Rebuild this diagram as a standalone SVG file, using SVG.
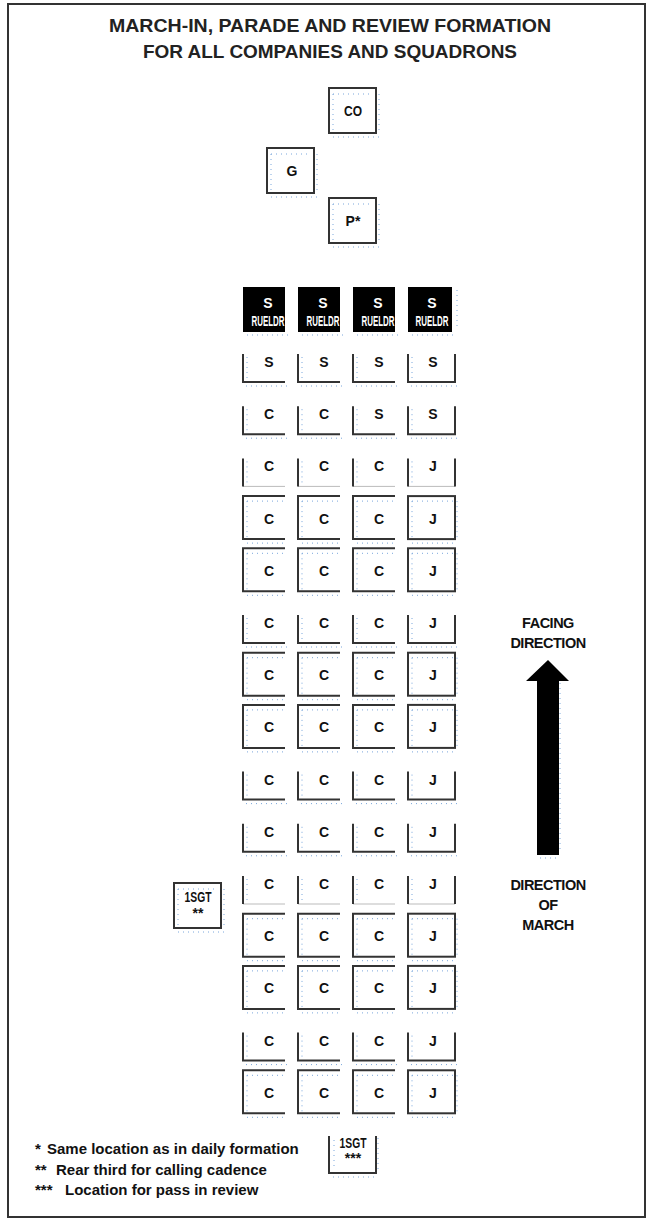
<svg xmlns="http://www.w3.org/2000/svg" xmlns:xlink="http://www.w3.org/1999/xlink" width="649" height="1222" viewBox="0 0 649 1222">
<style>
.ln{fill:none;stroke:#333;stroke-width:2}
.lt{fill:none;stroke:#bbb;stroke-width:1}
.dt{fill:none;stroke:#7aa7dc;stroke-width:1;stroke-dasharray:1 4}
.t{font-family:"Liberation Sans",Arial,sans-serif;font-weight:bold;font-size:14px;fill:#111;text-anchor:middle}
.w{fill:#fff}
.title{font-family:"Liberation Sans",Arial,sans-serif;font-weight:bold;font-size:19px;fill:#222;text-anchor:middle}
.lg{font-family:"Liberation Sans",Arial,sans-serif;font-weight:bold;font-size:15px;fill:#111}
.lab{font-family:"Liberation Sans",Arial,sans-serif;font-weight:bold;font-size:14.5px;fill:#111;text-anchor:middle;letter-spacing:-0.5px}
</style>
<defs>
<g id="u3"><path class="dt" d="M4,3V28M3,32H44"/><path class="ln" d="M0,0V28H42"/></g>
<g id="u4"><path class="dt" d="M4,3V28M3,32H49"/><path class="ln" d="M0,0V28H47V0"/></g>
<g id="l3"><path class="dt" d="M4,3V28"/><path class="lt" d="M0,28H42"/><path class="ln" d="M0,0V28"/></g>
<g id="l4"><path class="dt" d="M4,3V28"/><path class="lt" d="M0,28H47"/><path class="ln" d="M0,0V28M47,0V28"/></g>
<g id="f3"><path class="dt" d="M4,5H40M4,5V43M4,47H44"/><path class="ln" d="M42,0H0V43H42"/></g>
<g id="f4"><path class="dt" d="M4,5H45M4,5V43M4,47H49M49,5V43"/><rect class="ln" x="0" y="0" width="47" height="43"/></g>
<g id="sq"><path class="dt" d="M4,6H44M4,6V44M4,49H50M50,6V44"/><rect class="ln" x="0" y="0" width="47" height="45"/></g>
</defs>

<rect x="8" y="4" width="637" height="1213" fill="#fff" stroke="#333" stroke-width="2"/>

<g id="title">
<text class="title" x="330" y="32" textLength="442" lengthAdjust="spacingAndGlyphs">MARCH-IN, PARADE AND REVIEW FORMATION</text>
<text class="title" x="330" y="58" textLength="374" lengthAdjust="spacingAndGlyphs">FOR ALL COMPANIES AND SQUADRONS</text>
</g>

<g id="co"><use xlink:href="#sq" x="329" y="88"/><text class="t" x="353" y="116" textLength="18" lengthAdjust="spacingAndGlyphs">CO</text></g>
<g id="g"><use xlink:href="#sq" x="267" y="148"/><text class="t" x="292" y="175.5">G</text></g>
<g id="p"><use xlink:href="#sq" x="329" y="198"/><text class="t" x="353" y="226">P*</text></g>

<g id="row0">
<g id="r0c1"><path class="dt" d="M247,335H288"/><rect x="243" y="287" width="42" height="45" fill="#000"/><text class="t w" x="268" y="308">S</text><text class="t w" x="268" y="325.5" font-size="10.5" textLength="33" lengthAdjust="spacingAndGlyphs">RUELDR</text></g>
<g id="r0c2"><path class="dt" d="M302,335H343"/><rect x="298" y="287" width="42" height="45" fill="#000"/><text class="t w" x="323" y="308">S</text><text class="t w" x="323" y="325.5" font-size="10.5" textLength="33" lengthAdjust="spacingAndGlyphs">RUELDR</text></g>
<g id="r0c3"><path class="dt" d="M357,335H398"/><rect x="353" y="287" width="42" height="45" fill="#000"/><text class="t w" x="378" y="308">S</text><text class="t w" x="378" y="325.5" font-size="10.5" textLength="33" lengthAdjust="spacingAndGlyphs">RUELDR</text></g>
<g id="r0c4"><path class="dt" d="M412,335H457M457,290V330"/><rect x="408" y="287" width="44" height="45" fill="#000"/><text class="t w" x="432" y="308">S</text><text class="t w" x="432" y="325.5" font-size="10.5" textLength="33" lengthAdjust="spacingAndGlyphs">RUELDR</text></g>
</g>

<g id="row1">
<g id="r1c1"><use xlink:href="#u3" x="243" y="354"/><text class="t" x="269" y="367">S</text></g>
<g id="r1c2"><use xlink:href="#u3" x="298" y="354"/><text class="t" x="324" y="367">S</text></g>
<g id="r1c3"><use xlink:href="#u3" x="353" y="354"/><text class="t" x="379" y="367">S</text></g>
<g id="r1c4"><use xlink:href="#u4" x="408" y="354"/><text class="t" x="433" y="367">S</text></g>
</g>
<g id="row2">
<g id="r2c1"><use xlink:href="#u3" x="243" y="406.2"/><text class="t" x="269" y="419.2">C</text></g>
<g id="r2c2"><use xlink:href="#u3" x="298" y="406.2"/><text class="t" x="324" y="419.2">C</text></g>
<g id="r2c3"><use xlink:href="#u3" x="353" y="406.2"/><text class="t" x="379" y="419.2">S</text></g>
<g id="r2c4"><use xlink:href="#u4" x="408" y="406.2"/><text class="t" x="433" y="419.2">S</text></g>
</g>
<g id="row3">
<g id="r3c1"><use xlink:href="#l3" x="243" y="458.4"/><text class="t" x="269" y="471.4">C</text></g>
<g id="r3c2"><use xlink:href="#l3" x="298" y="458.4"/><text class="t" x="324" y="471.4">C</text></g>
<g id="r3c3"><use xlink:href="#l3" x="353" y="458.4"/><text class="t" x="379" y="471.4">C</text></g>
<g id="r3c4"><use xlink:href="#l4" x="408" y="458.4"/><text class="t" x="433" y="471.4">J</text></g>
</g>
<g id="row4">
<g id="r4c1"><use xlink:href="#f3" x="243" y="496.1"/><text class="t" x="269" y="523.6">C</text></g>
<g id="r4c2"><use xlink:href="#f3" x="298" y="496.1"/><text class="t" x="324" y="523.6">C</text></g>
<g id="r4c3"><use xlink:href="#f3" x="353" y="496.1"/><text class="t" x="379" y="523.6">C</text></g>
<g id="r4c4"><use xlink:href="#f4" x="408" y="496.1"/><text class="t" x="433" y="523.6">J</text></g>
</g>
<g id="row5">
<g id="r5c1"><use xlink:href="#f3" x="243" y="548.3"/><text class="t" x="269" y="575.8">C</text></g>
<g id="r5c2"><use xlink:href="#f3" x="298" y="548.3"/><text class="t" x="324" y="575.8">C</text></g>
<g id="r5c3"><use xlink:href="#f3" x="353" y="548.3"/><text class="t" x="379" y="575.8">C</text></g>
<g id="r5c4"><use xlink:href="#f4" x="408" y="548.3"/><text class="t" x="433" y="575.8">J</text></g>
</g>
<g id="row6">
<g id="r6c1"><use xlink:href="#u3" x="243" y="615"/><text class="t" x="269" y="628">C</text></g>
<g id="r6c2"><use xlink:href="#u3" x="298" y="615"/><text class="t" x="324" y="628">C</text></g>
<g id="r6c3"><use xlink:href="#u3" x="353" y="615"/><text class="t" x="379" y="628">C</text></g>
<g id="r6c4"><use xlink:href="#u4" x="408" y="615"/><text class="t" x="433" y="628">J</text></g>
</g>
<g id="row7">
<g id="r7c1"><use xlink:href="#f3" x="243" y="652.7"/><text class="t" x="269" y="680.2">C</text></g>
<g id="r7c2"><use xlink:href="#f3" x="298" y="652.7"/><text class="t" x="324" y="680.2">C</text></g>
<g id="r7c3"><use xlink:href="#f3" x="353" y="652.7"/><text class="t" x="379" y="680.2">C</text></g>
<g id="r7c4"><use xlink:href="#f4" x="408" y="652.7"/><text class="t" x="433" y="680.2">J</text></g>
</g>
<g id="row8">
<g id="r8c1"><use xlink:href="#f3" x="243" y="704.9"/><text class="t" x="269" y="732.4">C</text></g>
<g id="r8c2"><use xlink:href="#f3" x="298" y="704.9"/><text class="t" x="324" y="732.4">C</text></g>
<g id="r8c3"><use xlink:href="#f3" x="353" y="704.9"/><text class="t" x="379" y="732.4">C</text></g>
<g id="r8c4"><use xlink:href="#f4" x="408" y="704.9"/><text class="t" x="433" y="732.4">J</text></g>
</g>
<g id="row9">
<g id="r9c1"><use xlink:href="#u3" x="243" y="771.6"/><text class="t" x="269" y="784.6">C</text></g>
<g id="r9c2"><use xlink:href="#u3" x="298" y="771.6"/><text class="t" x="324" y="784.6">C</text></g>
<g id="r9c3"><use xlink:href="#u3" x="353" y="771.6"/><text class="t" x="379" y="784.6">C</text></g>
<g id="r9c4"><use xlink:href="#u4" x="408" y="771.6"/><text class="t" x="433" y="784.6">J</text></g>
</g>
<g id="row10">
<g id="r10c1"><use xlink:href="#u3" x="243" y="823.8"/><text class="t" x="269" y="836.8">C</text></g>
<g id="r10c2"><use xlink:href="#u3" x="298" y="823.8"/><text class="t" x="324" y="836.8">C</text></g>
<g id="r10c3"><use xlink:href="#u3" x="353" y="823.8"/><text class="t" x="379" y="836.8">C</text></g>
<g id="r10c4"><use xlink:href="#u4" x="408" y="823.8"/><text class="t" x="433" y="836.8">J</text></g>
</g>
<g id="row11">
<g id="r11c1"><use xlink:href="#l3" x="243" y="876"/><text class="t" x="269" y="889">C</text></g>
<g id="r11c2"><use xlink:href="#l3" x="298" y="876"/><text class="t" x="324" y="889">C</text></g>
<g id="r11c3"><use xlink:href="#l3" x="353" y="876"/><text class="t" x="379" y="889">C</text></g>
<g id="r11c4"><use xlink:href="#l4" x="408" y="876"/><text class="t" x="433" y="889">J</text></g>
</g>
<g id="row12">
<g id="r12c1"><use xlink:href="#f3" x="243" y="913.7"/><text class="t" x="269" y="941.2">C</text></g>
<g id="r12c2"><use xlink:href="#f3" x="298" y="913.7"/><text class="t" x="324" y="941.2">C</text></g>
<g id="r12c3"><use xlink:href="#f3" x="353" y="913.7"/><text class="t" x="379" y="941.2">C</text></g>
<g id="r12c4"><use xlink:href="#f4" x="408" y="913.7"/><text class="t" x="433" y="941.2">J</text></g>
</g>
<g id="row13">
<g id="r13c1"><use xlink:href="#f3" x="243" y="965.9"/><text class="t" x="269" y="993.4">C</text></g>
<g id="r13c2"><use xlink:href="#f3" x="298" y="965.9"/><text class="t" x="324" y="993.4">C</text></g>
<g id="r13c3"><use xlink:href="#f3" x="353" y="965.9"/><text class="t" x="379" y="993.4">C</text></g>
<g id="r13c4"><use xlink:href="#f4" x="408" y="965.9"/><text class="t" x="433" y="993.4">J</text></g>
</g>
<g id="row14">
<g id="r14c1"><use xlink:href="#u3" x="243" y="1032.6"/><text class="t" x="269" y="1045.6">C</text></g>
<g id="r14c2"><use xlink:href="#u3" x="298" y="1032.6"/><text class="t" x="324" y="1045.6">C</text></g>
<g id="r14c3"><use xlink:href="#u3" x="353" y="1032.6"/><text class="t" x="379" y="1045.6">C</text></g>
<g id="r14c4"><use xlink:href="#u4" x="408" y="1032.6"/><text class="t" x="433" y="1045.6">J</text></g>
</g>
<g id="row15">
<g id="r15c1"><use xlink:href="#f3" x="243" y="1070.3"/><text class="t" x="269" y="1097.8">C</text></g>
<g id="r15c2"><use xlink:href="#f3" x="298" y="1070.3"/><text class="t" x="324" y="1097.8">C</text></g>
<g id="r15c3"><use xlink:href="#f3" x="353" y="1070.3"/><text class="t" x="379" y="1097.8">C</text></g>
<g id="r15c4"><use xlink:href="#f4" x="408" y="1070.3"/><text class="t" x="433" y="1097.8">J</text></g>
</g>

<g id="sgt2"><use xlink:href="#sq" x="174" y="883"/><text class="t" x="198" y="901.5" font-size="12.5" textLength="27" lengthAdjust="spacingAndGlyphs">1SGT</text><text class="t" x="198" y="917.5">**</text></g>
<g id="sgt3"><path class="dt" d="M334,1140V1170M333,1177H378M378,1138V1172"/><path class="ln" d="M329,1136V1173H376V1136"/><text class="t" x="353" y="1148" font-size="12.5" textLength="27" lengthAdjust="spacingAndGlyphs">1SGT</text><text class="t" x="353" y="1162.5">***</text></g>

<g id="connectors">
<polygon points="548,660 569,681 559,681 559,855 537,855 537,681 526,681" fill="#000"/>
<path class="dt" d="M560,683V853M540,858H558"/>
</g>

<g id="facing"><text class="lab" x="548" y="628">FACING</text><text class="lab" x="548" y="648">DIRECTION</text></g>
<g id="march"><text class="lab" x="548" y="890">DIRECTION</text><text class="lab" x="548" y="910">OF</text><text class="lab" x="548" y="930">MARCH</text></g>

<g id="legend">
<text class="lg" y="1154"><tspan x="35">*</tspan><tspan x="47">Same location as in daily formation</tspan></text>
<text class="lg" y="1175"><tspan x="35">**</tspan><tspan x="56">Rear third for calling cadence</tspan></text>
<text class="lg" y="1195"><tspan x="35">***</tspan><tspan x="65">Location for pass in review</tspan></text>
</g>
</svg>
